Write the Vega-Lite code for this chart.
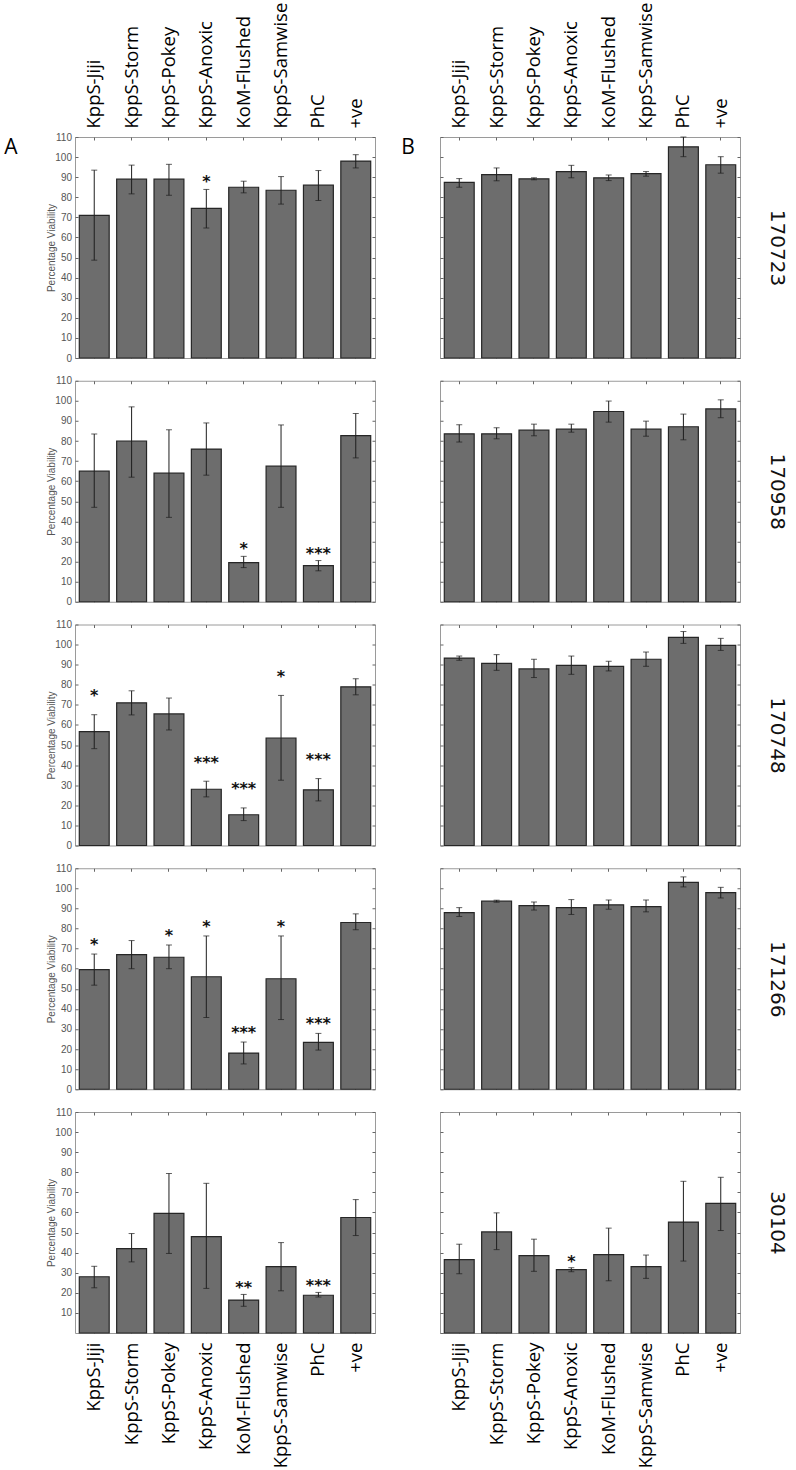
{
"$schema":"https://vega.github.io/schema/vega-lite/v6.json",
"padding":{"left":3,"top":1,"right":6,"bottom":0},
"background":"white",
"data":{"values":[
{"k":"A170723","c":"KppS-Jiji","m":71,"lo":48.7,"hi":93.5,"sig":""},
{"k":"A170723","c":"KppS-Storm","m":89,"lo":81.7,"hi":96,"sig":""},
{"k":"A170723","c":"KppS-Pokey","m":89,"lo":81,"hi":96.4,"sig":""},
{"k":"A170723","c":"KppS-Anoxic","m":74.5,"lo":64.7,"hi":83.9,"sig":"*"},
{"k":"A170723","c":"KoM-Flushed","m":85,"lo":82.2,"hi":88,"sig":""},
{"k":"A170723","c":"KppS-Samwise","m":83.5,"lo":76.6,"hi":90.3,"sig":""},
{"k":"A170723","c":"PhC","m":86,"lo":78.4,"hi":93.3,"sig":""},
{"k":"A170723","c":"+ve","m":98,"lo":94.6,"hi":101.2,"sig":""},
{"k":"A170958","c":"KppS-Jiji","m":65,"lo":47,"hi":83.5,"sig":""},
{"k":"A170958","c":"KppS-Storm","m":80,"lo":62,"hi":97,"sig":""},
{"k":"A170958","c":"KppS-Pokey","m":64,"lo":42,"hi":85.6,"sig":""},
{"k":"A170958","c":"KppS-Anoxic","m":76,"lo":63,"hi":89,"sig":""},
{"k":"A170958","c":"KoM-Flushed","m":19.5,"lo":17,"hi":22.6,"sig":"*"},
{"k":"A170958","c":"KppS-Samwise","m":67.5,"lo":47,"hi":88,"sig":""},
{"k":"A170958","c":"PhC","m":18,"lo":15.4,"hi":20.5,"sig":"***"},
{"k":"A170958","c":"+ve","m":82.7,"lo":71.6,"hi":93.7,"sig":""},
{"k":"A170748","c":"KppS-Jiji","m":56.7,"lo":48.2,"hi":65.1,"sig":"*"},
{"k":"A170748","c":"KppS-Storm","m":71,"lo":65,"hi":77,"sig":""},
{"k":"A170748","c":"KppS-Pokey","m":65.5,"lo":57.5,"hi":73.4,"sig":""},
{"k":"A170748","c":"KppS-Anoxic","m":28,"lo":24.2,"hi":32,"sig":"***"},
{"k":"A170748","c":"KoM-Flushed","m":15.3,"lo":12.4,"hi":18.7,"sig":"***"},
{"k":"A170748","c":"KppS-Samwise","m":53.5,"lo":32.5,"hi":74.7,"sig":"*"},
{"k":"A170748","c":"PhC","m":27.7,"lo":22.2,"hi":33.3,"sig":"***"},
{"k":"A170748","c":"+ve","m":79,"lo":75,"hi":83,"sig":""},
{"k":"A171266","c":"KppS-Jiji","m":59.5,"lo":51.8,"hi":67.3,"sig":"*"},
{"k":"A171266","c":"KppS-Storm","m":67,"lo":60,"hi":74,"sig":""},
{"k":"A171266","c":"KppS-Pokey","m":65.7,"lo":60,"hi":71.8,"sig":"*"},
{"k":"A171266","c":"KppS-Anoxic","m":56,"lo":35.7,"hi":76.3,"sig":"*"},
{"k":"A171266","c":"KoM-Flushed","m":18,"lo":12.6,"hi":23.5,"sig":"***"},
{"k":"A171266","c":"KppS-Samwise","m":55,"lo":34.7,"hi":76.3,"sig":"*"},
{"k":"A171266","c":"PhC","m":23.3,"lo":19.5,"hi":27.8,"sig":"***"},
{"k":"A171266","c":"+ve","m":83,"lo":79.4,"hi":87.3,"sig":""},
{"k":"A30104","c":"KppS-Jiji","m":28,"lo":22.5,"hi":33.2,"sig":""},
{"k":"A30104","c":"KppS-Storm","m":42,"lo":35.4,"hi":49.5,"sig":""},
{"k":"A30104","c":"KppS-Pokey","m":59.5,"lo":39.6,"hi":79.4,"sig":""},
{"k":"A30104","c":"KppS-Anoxic","m":48,"lo":22.2,"hi":74.5,"sig":""},
{"k":"A30104","c":"KoM-Flushed","m":16.4,"lo":13.3,"hi":19.2,"sig":"**"},
{"k":"A30104","c":"KppS-Samwise","m":33,"lo":21,"hi":45,"sig":""},
{"k":"A30104","c":"PhC","m":18.8,"lo":17.9,"hi":20.2,"sig":"***"},
{"k":"A30104","c":"+ve","m":57.5,"lo":48.5,"hi":66.4,"sig":""},
{"k":"B170723","c":"KppS-Jiji","m":87.4,"lo":85,"hi":89.3,"sig":""},
{"k":"B170723","c":"KppS-Storm","m":91.3,"lo":88.2,"hi":94.6,"sig":""},
{"k":"B170723","c":"KppS-Pokey","m":89.2,"lo":88.7,"hi":89.7,"sig":""},
{"k":"B170723","c":"KppS-Anoxic","m":92.8,"lo":89.7,"hi":95.9,"sig":""},
{"k":"B170723","c":"KoM-Flushed","m":89.7,"lo":88.3,"hi":91.1,"sig":""},
{"k":"B170723","c":"KppS-Samwise","m":91.8,"lo":90.5,"hi":92.8,"sig":""},
{"k":"B170723","c":"PhC","m":105.1,"lo":100.2,"hi":110,"sig":""},
{"k":"B170723","c":"+ve","m":96.2,"lo":92,"hi":100.2,"sig":""},
{"k":"B170958","c":"KppS-Jiji","m":83.6,"lo":79.5,"hi":88.1,"sig":""},
{"k":"B170958","c":"KppS-Storm","m":83.6,"lo":81.1,"hi":86.6,"sig":""},
{"k":"B170958","c":"KppS-Pokey","m":85.4,"lo":82.6,"hi":88.4,"sig":""},
{"k":"B170958","c":"KppS-Anoxic","m":85.9,"lo":84.4,"hi":88.4,"sig":""},
{"k":"B170958","c":"KoM-Flushed","m":94.7,"lo":89.4,"hi":99.9,"sig":""},
{"k":"B170958","c":"KppS-Samwise","m":85.9,"lo":82.4,"hi":89.9,"sig":""},
{"k":"B170958","c":"PhC","m":87.1,"lo":80.6,"hi":93.4,"sig":""},
{"k":"B170958","c":"+ve","m":96,"lo":91.6,"hi":100.5,"sig":""},
{"k":"B170748","c":"KppS-Jiji","m":93.3,"lo":92.2,"hi":94.3,"sig":""},
{"k":"B170748","c":"KppS-Storm","m":90.7,"lo":87.2,"hi":95,"sig":""},
{"k":"B170748","c":"KppS-Pokey","m":87.9,"lo":83.6,"hi":92.7,"sig":""},
{"k":"B170748","c":"KppS-Anoxic","m":89.7,"lo":85.2,"hi":94.3,"sig":""},
{"k":"B170748","c":"KoM-Flushed","m":89.2,"lo":86.9,"hi":91.7,"sig":""},
{"k":"B170748","c":"KppS-Samwise","m":92.7,"lo":89.2,"hi":96.3,"sig":""},
{"k":"B170748","c":"PhC","m":103.6,"lo":100.6,"hi":106.5,"sig":""},
{"k":"B170748","c":"+ve","m":99.6,"lo":97.1,"hi":103.1,"sig":""},
{"k":"B171266","c":"KppS-Jiji","m":87.9,"lo":86,"hi":90.4,"sig":""},
{"k":"B171266","c":"KppS-Storm","m":93.6,"lo":93.1,"hi":94.1,"sig":""},
{"k":"B171266","c":"KppS-Pokey","m":91.4,"lo":89.2,"hi":93.2,"sig":""},
{"k":"B171266","c":"KppS-Anoxic","m":90.4,"lo":87,"hi":94.4,"sig":""},
{"k":"B171266","c":"KoM-Flushed","m":91.8,"lo":89.6,"hi":94.2,"sig":""},
{"k":"B171266","c":"KppS-Samwise","m":90.9,"lo":88.3,"hi":94.2,"sig":""},
{"k":"B171266","c":"PhC","m":103,"lo":100.7,"hi":105.7,"sig":""},
{"k":"B171266","c":"+ve","m":97.9,"lo":95.2,"hi":100.5,"sig":""},
{"k":"B30104","c":"KppS-Jiji","m":36.5,"lo":29.5,"hi":44.2,"sig":""},
{"k":"B30104","c":"KppS-Storm","m":50.3,"lo":41.5,"hi":59.8,"sig":""},
{"k":"B30104","c":"KppS-Pokey","m":38.5,"lo":30.7,"hi":46.7,"sig":""},
{"k":"B30104","c":"KppS-Anoxic","m":31.5,"lo":30.5,"hi":32.5,"sig":"*"},
{"k":"B30104","c":"KoM-Flushed","m":39,"lo":26,"hi":52.2,"sig":""},
{"k":"B30104","c":"KppS-Samwise","m":33,"lo":27.2,"hi":38.8,"sig":""},
{"k":"B30104","c":"PhC","m":55.2,"lo":35.8,"hi":75.5,"sig":""},
{"k":"B30104","c":"+ve","m":64.5,"lo":51,"hi":77.5,"sig":""}
]},
"columns":2,
"spacing":{"row":22.75,"column":65},
"bounds":"flush",
"concat":[
{"width":300,"height":221,
 "title":{"text":"A","orient":"left","anchor":"end","frame":"group","angle":0,"align":"right","baseline":"top","font":"Open Sans","fontSize":21,"fontWeight":"normal","color":"#000","offset":16},
 "transform":[{"filter":"datum.k==='A170723'"}],
 "encoding":{"x":{"field":"c","type":"nominal","sort":["KppS-Jiji","KppS-Storm","KppS-Pokey","KppS-Anoxic","KoM-Flushed","KppS-Samwise","PhC","+ve"],"axis":null},"y":{"field":"hi","type":"quantitative","scale":{"domain":[0,110],"nice":false},"axis":null}},
 "layer":[
  {"mark":"bar","encoding":{"x":{"field":"c","type":"nominal","sort":["KppS-Jiji","KppS-Storm","KppS-Pokey","KppS-Anoxic","KoM-Flushed","KppS-Samwise","PhC","+ve"],"scale":{"paddingInner":0.2,"paddingOuter":0.115},"axis":{"orient":"bottom","labels":false,"title":null}},"y":{"field":"m","type":"quantitative","scale":{"domain":[0,110],"nice":false},"axis":{"orient":"left","values":[0,10,20,30,40,50,60,70,80,90,100,110],"title":"Percentage Viability"}}}},
  {"mark":"rule","encoding":{"x":{"field":"c","type":"nominal","sort":["KppS-Jiji","KppS-Storm","KppS-Pokey","KppS-Anoxic","KoM-Flushed","KppS-Samwise","PhC","+ve"],"axis":{"orient":"top","labels":true,"title":null}},"y":{"field":"lo","type":"quantitative","scale":{"domain":[0,110],"nice":false},"axis":{"orient":"right","values":[0,10,20,30,40,50,60,70,80,90,100,110],"labels":false,"title":null}},"y2":{"field":"hi"}}},
  {"mark":{"type":"tick","size":6},"encoding":{"y":{"field":"lo","type":"quantitative","scale":{"domain":[0,110],"nice":false},"axis":null}}},
  {"mark":{"type":"tick","size":6},"encoding":{}},
  {"mark":{"type":"text","dy":-2},"encoding":{"text":{"field":"sig"}}}
 ]},
{"width":300,"height":221,
 "title":{"text":"B","orient":"left","anchor":"end","frame":"group","angle":0,"align":"right","baseline":"top","font":"Open Sans","fontSize":21,"fontWeight":"normal","color":"#000","offset":11},
 "transform":[{"filter":"datum.k==='B170723'"}],
 "encoding":{"x":{"field":"c","type":"nominal","sort":["KppS-Jiji","KppS-Storm","KppS-Pokey","KppS-Anoxic","KoM-Flushed","KppS-Samwise","PhC","+ve"],"axis":null},"y":{"field":"hi","type":"quantitative","scale":{"domain":[0,110],"nice":false},"axis":null}},
 "layer":[
  {"mark":"bar","encoding":{"x":{"field":"c","type":"nominal","sort":["KppS-Jiji","KppS-Storm","KppS-Pokey","KppS-Anoxic","KoM-Flushed","KppS-Samwise","PhC","+ve"],"scale":{"paddingInner":0.2,"paddingOuter":0.115},"axis":{"orient":"bottom","labels":false,"title":null}},"y":{"field":"m","type":"quantitative","scale":{"domain":[0,110],"nice":false},"axis":{"orient":"left","values":[0,10,20,30,40,50,60,70,80,90,100,110],"labels":false,"title":null}}}},
  {"mark":"rule","encoding":{"x":{"field":"c","type":"nominal","sort":["KppS-Jiji","KppS-Storm","KppS-Pokey","KppS-Anoxic","KoM-Flushed","KppS-Samwise","PhC","+ve"],"axis":{"orient":"top","labels":true,"title":null}},"y":{"field":"lo","type":"quantitative","scale":{"domain":[0,110],"nice":false},"axis":{"orient":"right","values":[0,10,20,30,40,50,60,70,80,90,100,110],"labels":false,"title":"170723"}},"y2":{"field":"hi"}}},
  {"mark":{"type":"tick","size":6},"encoding":{"y":{"field":"lo","type":"quantitative","scale":{"domain":[0,110],"nice":false},"axis":null}}},
  {"mark":{"type":"tick","size":6},"encoding":{}},
  {"mark":{"type":"text","dy":-2},"encoding":{"text":{"field":"sig"}}}
 ]},
{"width":300,"height":221,
 "transform":[{"filter":"datum.k==='A170958'"}],
 "encoding":{"x":{"field":"c","type":"nominal","sort":["KppS-Jiji","KppS-Storm","KppS-Pokey","KppS-Anoxic","KoM-Flushed","KppS-Samwise","PhC","+ve"],"axis":null},"y":{"field":"hi","type":"quantitative","scale":{"domain":[0,110],"nice":false},"axis":null}},
 "layer":[
  {"mark":"bar","encoding":{"x":{"field":"c","type":"nominal","sort":["KppS-Jiji","KppS-Storm","KppS-Pokey","KppS-Anoxic","KoM-Flushed","KppS-Samwise","PhC","+ve"],"scale":{"paddingInner":0.2,"paddingOuter":0.115},"axis":{"orient":"bottom","labels":false,"title":null}},"y":{"field":"m","type":"quantitative","scale":{"domain":[0,110],"nice":false},"axis":{"orient":"left","values":[0,10,20,30,40,50,60,70,80,90,100,110],"title":"Percentage Viability"}}}},
  {"mark":"rule","encoding":{"x":{"field":"c","type":"nominal","sort":["KppS-Jiji","KppS-Storm","KppS-Pokey","KppS-Anoxic","KoM-Flushed","KppS-Samwise","PhC","+ve"],"axis":{"orient":"top","labels":false,"title":null}},"y":{"field":"lo","type":"quantitative","scale":{"domain":[0,110],"nice":false},"axis":{"orient":"right","values":[0,10,20,30,40,50,60,70,80,90,100,110],"labels":false,"title":null}},"y2":{"field":"hi"}}},
  {"mark":{"type":"tick","size":6},"encoding":{"y":{"field":"lo","type":"quantitative","scale":{"domain":[0,110],"nice":false},"axis":null}}},
  {"mark":{"type":"tick","size":6},"encoding":{}},
  {"mark":{"type":"text","dy":-2},"encoding":{"text":{"field":"sig"}}}
 ]},
{"width":300,"height":221,
 "transform":[{"filter":"datum.k==='B170958'"}],
 "encoding":{"x":{"field":"c","type":"nominal","sort":["KppS-Jiji","KppS-Storm","KppS-Pokey","KppS-Anoxic","KoM-Flushed","KppS-Samwise","PhC","+ve"],"axis":null},"y":{"field":"hi","type":"quantitative","scale":{"domain":[0,110],"nice":false},"axis":null}},
 "layer":[
  {"mark":"bar","encoding":{"x":{"field":"c","type":"nominal","sort":["KppS-Jiji","KppS-Storm","KppS-Pokey","KppS-Anoxic","KoM-Flushed","KppS-Samwise","PhC","+ve"],"scale":{"paddingInner":0.2,"paddingOuter":0.115},"axis":{"orient":"bottom","labels":false,"title":null}},"y":{"field":"m","type":"quantitative","scale":{"domain":[0,110],"nice":false},"axis":{"orient":"left","values":[0,10,20,30,40,50,60,70,80,90,100,110],"labels":false,"title":null}}}},
  {"mark":"rule","encoding":{"x":{"field":"c","type":"nominal","sort":["KppS-Jiji","KppS-Storm","KppS-Pokey","KppS-Anoxic","KoM-Flushed","KppS-Samwise","PhC","+ve"],"axis":{"orient":"top","labels":false,"title":null}},"y":{"field":"lo","type":"quantitative","scale":{"domain":[0,110],"nice":false},"axis":{"orient":"right","values":[0,10,20,30,40,50,60,70,80,90,100,110],"labels":false,"title":"170958"}},"y2":{"field":"hi"}}},
  {"mark":{"type":"tick","size":6},"encoding":{"y":{"field":"lo","type":"quantitative","scale":{"domain":[0,110],"nice":false},"axis":null}}},
  {"mark":{"type":"tick","size":6},"encoding":{}},
  {"mark":{"type":"text","dy":-2},"encoding":{"text":{"field":"sig"}}}
 ]},
{"width":300,"height":221,
 "transform":[{"filter":"datum.k==='A170748'"}],
 "encoding":{"x":{"field":"c","type":"nominal","sort":["KppS-Jiji","KppS-Storm","KppS-Pokey","KppS-Anoxic","KoM-Flushed","KppS-Samwise","PhC","+ve"],"axis":null},"y":{"field":"hi","type":"quantitative","scale":{"domain":[0,110],"nice":false},"axis":null}},
 "layer":[
  {"mark":"bar","encoding":{"x":{"field":"c","type":"nominal","sort":["KppS-Jiji","KppS-Storm","KppS-Pokey","KppS-Anoxic","KoM-Flushed","KppS-Samwise","PhC","+ve"],"scale":{"paddingInner":0.2,"paddingOuter":0.115},"axis":{"orient":"bottom","labels":false,"title":null}},"y":{"field":"m","type":"quantitative","scale":{"domain":[0,110],"nice":false},"axis":{"orient":"left","values":[0,10,20,30,40,50,60,70,80,90,100,110],"title":"Percentage Viability"}}}},
  {"mark":"rule","encoding":{"x":{"field":"c","type":"nominal","sort":["KppS-Jiji","KppS-Storm","KppS-Pokey","KppS-Anoxic","KoM-Flushed","KppS-Samwise","PhC","+ve"],"axis":{"orient":"top","labels":false,"title":null}},"y":{"field":"lo","type":"quantitative","scale":{"domain":[0,110],"nice":false},"axis":{"orient":"right","values":[0,10,20,30,40,50,60,70,80,90,100,110],"labels":false,"title":null}},"y2":{"field":"hi"}}},
  {"mark":{"type":"tick","size":6},"encoding":{"y":{"field":"lo","type":"quantitative","scale":{"domain":[0,110],"nice":false},"axis":null}}},
  {"mark":{"type":"tick","size":6},"encoding":{}},
  {"mark":{"type":"text","dy":-13.5},"encoding":{"text":{"field":"sig"}}}
 ]},
{"width":300,"height":221,
 "transform":[{"filter":"datum.k==='B170748'"}],
 "encoding":{"x":{"field":"c","type":"nominal","sort":["KppS-Jiji","KppS-Storm","KppS-Pokey","KppS-Anoxic","KoM-Flushed","KppS-Samwise","PhC","+ve"],"axis":null},"y":{"field":"hi","type":"quantitative","scale":{"domain":[0,110],"nice":false},"axis":null}},
 "layer":[
  {"mark":"bar","encoding":{"x":{"field":"c","type":"nominal","sort":["KppS-Jiji","KppS-Storm","KppS-Pokey","KppS-Anoxic","KoM-Flushed","KppS-Samwise","PhC","+ve"],"scale":{"paddingInner":0.2,"paddingOuter":0.115},"axis":{"orient":"bottom","labels":false,"title":null}},"y":{"field":"m","type":"quantitative","scale":{"domain":[0,110],"nice":false},"axis":{"orient":"left","values":[0,10,20,30,40,50,60,70,80,90,100,110],"labels":false,"title":null}}}},
  {"mark":"rule","encoding":{"x":{"field":"c","type":"nominal","sort":["KppS-Jiji","KppS-Storm","KppS-Pokey","KppS-Anoxic","KoM-Flushed","KppS-Samwise","PhC","+ve"],"axis":{"orient":"top","labels":false,"title":null}},"y":{"field":"lo","type":"quantitative","scale":{"domain":[0,110],"nice":false},"axis":{"orient":"right","values":[0,10,20,30,40,50,60,70,80,90,100,110],"labels":false,"title":"170748"}},"y2":{"field":"hi"}}},
  {"mark":{"type":"tick","size":6},"encoding":{"y":{"field":"lo","type":"quantitative","scale":{"domain":[0,110],"nice":false},"axis":null}}},
  {"mark":{"type":"tick","size":6},"encoding":{}},
  {"mark":{"type":"text","dy":-2},"encoding":{"text":{"field":"sig"}}}
 ]},
{"width":300,"height":221,
 "transform":[{"filter":"datum.k==='A171266'"}],
 "encoding":{"x":{"field":"c","type":"nominal","sort":["KppS-Jiji","KppS-Storm","KppS-Pokey","KppS-Anoxic","KoM-Flushed","KppS-Samwise","PhC","+ve"],"axis":null},"y":{"field":"hi","type":"quantitative","scale":{"domain":[0,110],"nice":false},"axis":null}},
 "layer":[
  {"mark":"bar","encoding":{"x":{"field":"c","type":"nominal","sort":["KppS-Jiji","KppS-Storm","KppS-Pokey","KppS-Anoxic","KoM-Flushed","KppS-Samwise","PhC","+ve"],"scale":{"paddingInner":0.2,"paddingOuter":0.115},"axis":{"orient":"bottom","labels":false,"title":null}},"y":{"field":"m","type":"quantitative","scale":{"domain":[0,110],"nice":false},"axis":{"orient":"left","values":[0,10,20,30,40,50,60,70,80,90,100,110],"title":"Percentage Viability"}}}},
  {"mark":"rule","encoding":{"x":{"field":"c","type":"nominal","sort":["KppS-Jiji","KppS-Storm","KppS-Pokey","KppS-Anoxic","KoM-Flushed","KppS-Samwise","PhC","+ve"],"axis":{"orient":"top","labels":false,"title":null}},"y":{"field":"lo","type":"quantitative","scale":{"domain":[0,110],"nice":false},"axis":{"orient":"right","values":[0,10,20,30,40,50,60,70,80,90,100,110],"labels":false,"title":null}},"y2":{"field":"hi"}}},
  {"mark":{"type":"tick","size":6},"encoding":{"y":{"field":"lo","type":"quantitative","scale":{"domain":[0,110],"nice":false},"axis":null}}},
  {"mark":{"type":"tick","size":6},"encoding":{}},
  {"mark":{"type":"text","dy":-4},"encoding":{"text":{"field":"sig"}}}
 ]},
{"width":300,"height":221,
 "transform":[{"filter":"datum.k==='B171266'"}],
 "encoding":{"x":{"field":"c","type":"nominal","sort":["KppS-Jiji","KppS-Storm","KppS-Pokey","KppS-Anoxic","KoM-Flushed","KppS-Samwise","PhC","+ve"],"axis":null},"y":{"field":"hi","type":"quantitative","scale":{"domain":[0,110],"nice":false},"axis":null}},
 "layer":[
  {"mark":"bar","encoding":{"x":{"field":"c","type":"nominal","sort":["KppS-Jiji","KppS-Storm","KppS-Pokey","KppS-Anoxic","KoM-Flushed","KppS-Samwise","PhC","+ve"],"scale":{"paddingInner":0.2,"paddingOuter":0.115},"axis":{"orient":"bottom","labels":false,"title":null}},"y":{"field":"m","type":"quantitative","scale":{"domain":[0,110],"nice":false},"axis":{"orient":"left","values":[0,10,20,30,40,50,60,70,80,90,100,110],"labels":false,"title":null}}}},
  {"mark":"rule","encoding":{"x":{"field":"c","type":"nominal","sort":["KppS-Jiji","KppS-Storm","KppS-Pokey","KppS-Anoxic","KoM-Flushed","KppS-Samwise","PhC","+ve"],"axis":{"orient":"top","labels":false,"title":null}},"y":{"field":"lo","type":"quantitative","scale":{"domain":[0,110],"nice":false},"axis":{"orient":"right","values":[0,10,20,30,40,50,60,70,80,90,100,110],"labels":false,"title":"171266"}},"y2":{"field":"hi"}}},
  {"mark":{"type":"tick","size":6},"encoding":{"y":{"field":"lo","type":"quantitative","scale":{"domain":[0,110],"nice":false},"axis":null}}},
  {"mark":{"type":"tick","size":6},"encoding":{}},
  {"mark":{"type":"text","dy":-2},"encoding":{"text":{"field":"sig"}}}
 ]},
{"width":300,"height":221,
 "transform":[{"filter":"datum.k==='A30104'"}],
 "encoding":{"x":{"field":"c","type":"nominal","sort":["KppS-Jiji","KppS-Storm","KppS-Pokey","KppS-Anoxic","KoM-Flushed","KppS-Samwise","PhC","+ve"],"axis":null},"y":{"field":"hi","type":"quantitative","scale":{"domain":[0,110],"nice":false},"axis":null}},
 "layer":[
  {"mark":"bar","encoding":{"x":{"field":"c","type":"nominal","sort":["KppS-Jiji","KppS-Storm","KppS-Pokey","KppS-Anoxic","KoM-Flushed","KppS-Samwise","PhC","+ve"],"scale":{"paddingInner":0.2,"paddingOuter":0.115},"axis":{"orient":"bottom","labels":true,"title":null}},"y":{"field":"m","type":"quantitative","scale":{"domain":[0,110],"nice":false},"axis":{"orient":"left","values":[10,20,30,40,50,60,70,80,90,100,110],"title":"Percentage Viability"}}}},
  {"mark":"rule","encoding":{"x":{"field":"c","type":"nominal","sort":["KppS-Jiji","KppS-Storm","KppS-Pokey","KppS-Anoxic","KoM-Flushed","KppS-Samwise","PhC","+ve"],"axis":{"orient":"top","labels":false,"title":null}},"y":{"field":"lo","type":"quantitative","scale":{"domain":[0,110],"nice":false},"axis":{"orient":"right","values":[0,10,20,30,40,50,60,70,80,90,100,110],"labels":false,"title":null}},"y2":{"field":"hi"}}},
  {"mark":{"type":"tick","size":6},"encoding":{"y":{"field":"lo","type":"quantitative","scale":{"domain":[0,110],"nice":false},"axis":null}}},
  {"mark":{"type":"tick","size":6},"encoding":{}},
  {"mark":{"type":"text","dy":-1.5},"encoding":{"text":{"field":"sig"}}}
 ]},
{"width":300,"height":221,
 "transform":[{"filter":"datum.k==='B30104'"}],
 "encoding":{"x":{"field":"c","type":"nominal","sort":["KppS-Jiji","KppS-Storm","KppS-Pokey","KppS-Anoxic","KoM-Flushed","KppS-Samwise","PhC","+ve"],"axis":null},"y":{"field":"hi","type":"quantitative","scale":{"domain":[0,110],"nice":false},"axis":null}},
 "layer":[
  {"mark":"bar","encoding":{"x":{"field":"c","type":"nominal","sort":["KppS-Jiji","KppS-Storm","KppS-Pokey","KppS-Anoxic","KoM-Flushed","KppS-Samwise","PhC","+ve"],"scale":{"paddingInner":0.2,"paddingOuter":0.115},"axis":{"orient":"bottom","labels":true,"title":null}},"y":{"field":"m","type":"quantitative","scale":{"domain":[0,110],"nice":false},"axis":{"orient":"left","values":[0,10,20,30,40,50,60,70,80,90,100,110],"labels":false,"title":null}}}},
  {"mark":"rule","encoding":{"x":{"field":"c","type":"nominal","sort":["KppS-Jiji","KppS-Storm","KppS-Pokey","KppS-Anoxic","KoM-Flushed","KppS-Samwise","PhC","+ve"],"axis":{"orient":"top","labels":false,"title":null}},"y":{"field":"lo","type":"quantitative","scale":{"domain":[0,110],"nice":false},"axis":{"orient":"right","values":[0,10,20,30,40,50,60,70,80,90,100,110],"labels":false,"title":"30104"}},"y2":{"field":"hi"}}},
  {"mark":{"type":"tick","size":6},"encoding":{"y":{"field":"lo","type":"quantitative","scale":{"domain":[0,110],"nice":false},"axis":null}}},
  {"mark":{"type":"tick","size":6},"encoding":{}},
  {"mark":{"type":"text","dy":-0.5},"encoding":{"text":{"field":"sig"}}}
 ]}
],
"config":{
 "view":{"stroke":"#9a9a9a","strokeWidth":1},
 "axis":{"domain":false,"grid":false,"tickSize":-3,"tickColor":"#666","tickWidth":1},
 "axisX":{"labelAngle":-90,"labelFont":"Open Sans","labelFontSize":18.5,"labelColor":"#000","labelPadding":12},
 "axisY":{"labelFont":"Liberation Sans","labelFontSize":10,"labelColor":"#555","labelPadding":6.5,"titleFont":"Liberation Sans","titleFontSize":10,"titleFontWeight":"normal","titleColor":"#555","titlePadding":-2},
 "axisRight":{"titleFont":"DejaVu Sans","titleFontSize":20,"titleFontWeight":"normal","titleColor":"#111","titlePadding":26},
 "bar":{"fill":"#6d6d6d","stroke":"#262626","strokeWidth":1.2},
 "rule":{"color":"#1e1e1e","strokeWidth":1},
 "tick":{"color":"#1e1e1e","thickness":1},
 "text":{"font":"DejaVu Sans","fontSize":16,"fontWeight":"bold","fill":"#111","color":"#111","baseline":"alphabetic"}
}
}
